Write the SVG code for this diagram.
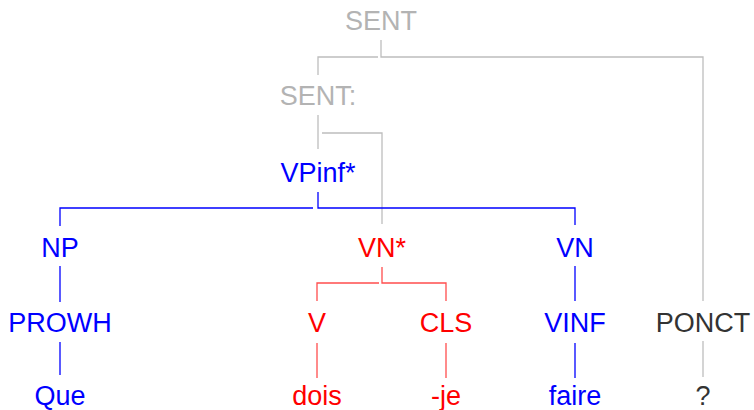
<svg xmlns="http://www.w3.org/2000/svg" width="754" height="410" viewBox="0 0 754 410">
  <style>
    text { font-family: "Liberation Sans", Arial, sans-serif; font-size: 27px; text-anchor: middle; }
    .g { fill: #b3b3b3; }
    .d { fill: #333333; }
    .b { fill: #0000ff; }
    .r { fill: #ff0000; }
    .edge { fill: none; stroke-width: 1.3; }
    .eg { stroke: #bdbdbd; }
    .eb { stroke: #0000ff; }
    .er { stroke: #ff4d4d; }
  </style>
  <rect width="754" height="410" fill="#ffffff"/>

  <!-- tree edges -->
  <g id="connectors">
    <!-- SENT -> SENT: and PONCT -->
    <path class="edge eg" d="M318 75 V57 H378"/>
    <path class="edge eg" d="M381 40 V57 H703 V301"/>
    <!-- SENT: -> VPinf* and VN* -->
    <path class="edge eg" d="M318 115 V149"/>
    <path class="edge eg" d="M322 133 H382 V224"/>
    <!-- VPinf* -> NP, VN -->
    <path class="edge eb" d="M60 226 V208 H313"/>
    <path class="edge eb" d="M318 192 V208 H575 V225"/>
    <!-- NP -> PROWH -> Que -->
    <path class="edge eb" d="M60 266 V302"/>
    <path class="edge eb" d="M60 342 V375"/>
    <!-- VN* -> V, CLS -->
    <path class="edge er" d="M317 301 V283 H379"/>
    <path class="edge er" d="M382 267 V283 H446 V301"/>
    <!-- V -> dois, CLS -> -je -->
    <path class="edge er" d="M317 343 V378"/>
    <path class="edge er" d="M446 343 V378"/>
    <!-- VN -> VINF -> faire -->
    <path class="edge eb" d="M575 266 V301"/>
    <path class="edge eb" d="M575 343 V378"/>
    <!-- PONCT -> ? -->
    <path class="edge eg" d="M703 341 V377"/>
  </g>

  <g id="n-sent"><text class="g" x="381" y="30">SENT</text></g>
  <g id="n-sent-colon"><text class="g" x="318" y="105">SENT:</text></g>
  <g id="n-vpinf"><text class="b" x="318" y="182">VPinf*</text></g>
  <g id="n-np"><text class="b" x="60" y="257">NP</text></g>
  <g id="n-vn-star"><text class="r" x="382" y="257">VN*</text></g>
  <g id="n-vn"><text class="b" x="575" y="257">VN</text></g>
  <g id="n-prowh"><text class="b" x="60" y="332">PROWH</text></g>
  <g id="n-v"><text class="r" x="317" y="332">V</text></g>
  <g id="n-cls"><text class="r" x="446" y="332">CLS</text></g>
  <g id="n-vinf"><text class="b" x="575" y="332">VINF</text></g>
  <g id="n-ponct"><text class="d" x="703" y="332">PONCT</text></g>
  <g id="w-que"><text class="b" x="60" y="405">Que</text></g>
  <g id="w-dois"><text class="r" x="317" y="405">dois</text></g>
  <g id="w-je"><text class="r" x="446" y="405">-je</text></g>
  <g id="w-faire"><text class="b" x="575" y="405">faire</text></g>
  <g id="w-q"><text class="d" x="703" y="405">?</text></g>
</svg>
